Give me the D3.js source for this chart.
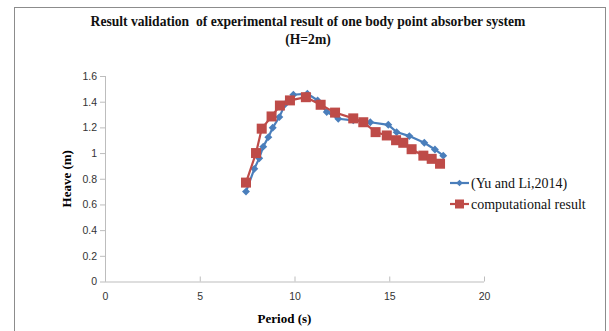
<!DOCTYPE html>
<html>
<head>
<meta charset="utf-8">
<script src="https://cdn.jsdelivr.net/npm/d3@7"></script>
<style>
  body { margin: 0; background: #fff; }
</style>
</head>
<body>
<svg id="chart" width="609" height="331"></svg>
<script>
// data
const yuPeriod = [7.44, 7.88, 8.14, 8.35, 8.62, 8.85, 9.2, 9.5, 9.94, 10.68, 11.22, 11.7, 12.31, 13.1, 14.0, 14.95, 15.39, 16.06, 16.85, 17.41, 17.85];
const yuHeave  = [0.70, 0.877, 0.96, 1.05, 1.124, 1.197, 1.28, 1.38, 1.454, 1.462, 1.41, 1.32, 1.267, 1.255, 1.24, 1.22, 1.163, 1.132, 1.08, 1.028, 0.98];

const compPeriod = [7.44, 7.97, 8.27, 8.79, 9.23, 9.76, 10.6, 11.38, 12.14, 13.1, 13.63, 14.28, 14.87, 15.36, 15.74, 16.18, 16.8, 17.24, 17.68];
const compHeave  = [0.77, 1.00, 1.19, 1.285, 1.37, 1.41, 1.435, 1.376, 1.315, 1.27, 1.24, 1.163, 1.137, 1.10, 1.08, 1.03, 0.98, 0.955, 0.917];

const xTicks = [0, 5, 10, 15, 20];
const yTicks = [0, 0.2, 0.4, 0.6, 0.8, 1, 1.2, 1.4, 1.6];

const seriesNames = ["(Yu and Li,2014)", "computational result"];
const titleLines = ["Result validation  of experimental result of one body point absorber system", "(H=2m)"];

const serif = "'Liberation Serif', 'Times New Roman', serif";
const sans = "'Liberation Sans', Arial, sans-serif";

const svg = d3.select("#chart");

// outer chart border
svg.append("rect")
  .attr("x", 14.5).attr("y", 7.5)
  .attr("width", 591).attr("height", 340)
  .attr("fill", "none").attr("stroke", "#8c8c8c");

const xScale = d3.scaleLinear().domain([0, 20]).range([105, 484]);
const yScale = d3.scaleLinear().domain([0, 1.6]).range([281.5, 76]);

// title
svg.selectAll(".title")
  .data(titleLines).enter()
  .append("text")
  .attr("class", "title")
  .attr("x", 308)
  .attr("y", (d, i) => 26 + i * 18)
  .attr("text-anchor", "middle")
  .style("font-family", serif)
  .style("font-size", "13.6px")
  .style("font-weight", "bold")
  .style("white-space", "pre")
  .attr("fill", "#111")
  .text(d => d);

// axes
const xAxis = d3.axisBottom(xScale).tickValues(xTicks).tickSize(5).tickFormat(d3.format("d"));
const yAxis = d3.axisLeft(yScale).tickValues(yTicks).tickSize(5).tickFormat(d => d === 0 || d === 1 ? d : d.toFixed(1));

const gx = svg.append("g")
  .attr("transform", "translate(0," + yScale(0) + ")")
  .call(xAxis);
const gy = svg.append("g")
  .attr("transform", "translate(" + xScale(0) + ",0)")
  .call(yAxis);

[gx, gy].forEach(g => {
  g.select(".domain").attr("stroke", "#bdbdbd");
  g.selectAll(".tick line").attr("stroke", "#bdbdbd");
  g.selectAll(".tick text")
    .attr("fill", "#333")
    .style("font-family", sans)
    .style("font-size", "10.5px");
});
gy.select(".domain").attr("d", "M0.5," + yScale(1.6) + "V" + yScale(0));
gx.select(".domain").attr("d", "M" + xScale(0) + ",0.5H" + xScale(20));
gy.selectAll(".tick line").attr("x2", -5);
gx.selectAll(".tick line").attr("y2", 0).attr("y1", -5);
gx.selectAll(".tick text").attr("dy", "1em");

// axis titles
svg.append("text")
  .attr("x", xScale(10) - 10)
  .attr("y", 323)
  .attr("text-anchor", "middle")
  .style("font-family", serif)
  .style("font-size", "13px")
  .style("font-weight", "bold")
  .text("Period (s)");

svg.append("text")
  .attr("transform", "translate(71," + yScale(0.8) + ") rotate(-90)")
  .attr("text-anchor", "middle")
  .style("font-family", serif)
  .style("font-size", "13px")
  .style("font-weight", "bold")
  .text("Heave (m)");

const blue = "#4a7ebb";
const red = "#be4b48";

const line = d3.line().x(d => xScale(d[0])).y(d => yScale(d[1]));
const yuData = yuPeriod.map((p, i) => [p, yuHeave[i]]);
const compData = compPeriod.map((p, i) => [p, compHeave[i]]);

// series 1: blue diamonds
svg.append("path")
  .datum(yuData)
  .attr("d", line)
  .attr("fill", "none")
  .attr("stroke", blue)
  .attr("stroke-width", 2.2);

const diamond = d3.symbol().type(d3.symbolDiamond2).size(40);
svg.selectAll(".yu")
  .data(yuData).enter()
  .append("path")
  .attr("class", "yu")
  .attr("d", diamond)
  .attr("transform", d => "translate(" + xScale(d[0]) + "," + yScale(d[1]) + ")")
  .attr("fill", blue);

// series 2: red squares
svg.append("path")
  .datum(compData)
  .attr("d", line)
  .attr("fill", "none")
  .attr("stroke", red)
  .attr("stroke-width", 2.2);

svg.selectAll(".comp")
  .data(compData).enter()
  .append("rect")
  .attr("class", "comp")
  .attr("x", d => xScale(d[0]) - 5)
  .attr("y", d => yScale(d[1]) - 5)
  .attr("width", 10).attr("height", 10)
  .attr("fill", red);

// legend
const legend = svg.append("g").attr("transform", "translate(450,183)");
const items = legend.selectAll("g")
  .data(seriesNames).enter()
  .append("g")
  .attr("transform", (d, i) => "translate(0," + i * 21 + ")");

items.append("line")
  .attr("x1", 0).attr("x2", 19)
  .attr("stroke", (d, i) => i === 0 ? blue : red)
  .attr("stroke-width", 2.2);

items.filter((d, i) => i === 0).append("path")
  .attr("d", d3.symbol().type(d3.symbolDiamond2).size(28))
  .attr("transform", "translate(9.5,0)")
  .attr("fill", blue);

items.filter((d, i) => i === 1).append("rect")
  .attr("x", 5).attr("y", -4.5)
  .attr("width", 9).attr("height", 9)
  .attr("fill", red);

items.append("text")
  .attr("x", 21)
  .attr("dy", "0.35em")
  .style("font-family", serif)
  .style("font-size", "14px")
  .attr("fill", "#111")
  .text(d => d);
</script>
</body>
</html>
